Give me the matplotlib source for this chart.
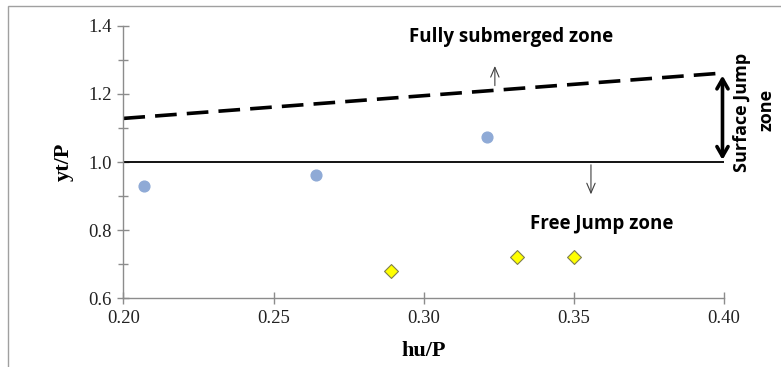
import matplotlib.pyplot as plt
from matplotlib.patches import Rectangle

# data
free_x = [0.207, 0.264, 0.321]
free_y = [0.931, 0.963, 1.074]
sub_x = [0.289, 0.331, 0.350]
sub_y = [0.681, 0.721, 0.722]

# boundary lines
dash_x = [0.200, 0.398]
dash_y = [1.128, 1.260]
solid_x = [0.200, 0.400]
solid_y = [1.0, 1.0]

xticks = [0.20, 0.25, 0.30, 0.35, 0.40]
yticks = [0.6, 0.8, 1.0, 1.2, 1.4]

fig = plt.figure(figsize=(7.81, 3.67), dpi=100)
ax = fig.add_axes([0.158, 0.187, 0.769, 0.743])

# chart area border (Excel-style, cropped at right/bottom)
fig.patches.append(Rectangle((8 / 781, -0.1), 1.2, 1 - 6 / 367 + 0.1,
                             transform=fig.transFigure, fill=False,
                             edgecolor='#a0a0a0', linewidth=1.0))

ax.plot(dash_x, dash_y, color='black', linestyle=(0, (6, 2.8)), linewidth=2.6)
ax.plot(solid_x, solid_y, color='black', linewidth=1.3)

ax.scatter(free_x, free_y, s=60, color='#8faad6', zorder=3)
ax.scatter(sub_x, sub_y, s=50, marker='D', color='#ffff00',
           edgecolors='#7f7f50', linewidths=0.8, zorder=3)

# arrows
ax.annotate('', xy=(0.3995, 1.262), xytext=(0.3995, 0.998),
            arrowprops=dict(arrowstyle='<->,head_length=0.7,head_width=0.4',
                            color='black', lw=2.6))
ax.annotate('', xy=(0.3237, 1.29), xytext=(0.3237, 1.216),
            arrowprops=dict(arrowstyle='->,head_length=0.7,head_width=0.3',
                            color='#404040', lw=0.8))
ax.annotate('', xy=(0.3557, 0.897), xytext=(0.3557, 1.0),
            arrowprops=dict(arrowstyle='->,head_length=0.7,head_width=0.3',
                            color='#404040', lw=0.8))

ax.text(0.3292, 1.366, 'Fully submerged zone', ha='center', va='center',
        fontsize=13.5, fontweight='bold', family='Open Sans')
ax.text(0.3592, 0.818, 'Free Jump zone', ha='center', va='center',
        fontsize=13.5, fontweight='bold', family='Open Sans')
fig.text(742 / 781, 1 - 112 / 367, 'Surface Jump', rotation=90, ha='center',
         va='center', fontsize=13, fontweight='bold', family='Open Sans')
fig.text(767 / 781, 1 - 110 / 367, 'zone', rotation=90, ha='center',
         va='center', fontsize=13, fontweight='bold', family='Open Sans')

ax.set_xlim(0.20, 0.40)
ax.set_ylim(0.6, 1.4)
ax.set_xticks(xticks)
ax.set_yticks(yticks)
ax.set_xticklabels(['%.2f' % t for t in xticks])
ax.set_yticklabels(['%.1f' % t for t in yticks])
ax.set_yticks([0.7, 0.9, 1.1, 1.3], minor=True)

for side in ['top', 'right']:
    ax.spines[side].set_visible(False)
for side in ['left', 'bottom']:
    ax.spines[side].set_color('#8c8c8c')
    ax.spines[side].set_linewidth(1.0)

ax.tick_params(which='major', direction='inout', length=9, width=1.0,
               color='#8c8c8c', pad=4, labelsize=13.5, labelcolor='#222222',
               labelfontfamily='Liberation Serif')
ax.tick_params(which='minor', direction='inout', length=7, width=1.0, color='#8c8c8c')

ax.set_xlabel('hu/P', fontsize=16, fontweight='bold', family='Liberation Serif', labelpad=10)
ax.set_ylabel('yt/P', fontsize=16, fontweight='bold', family='Liberation Serif', labelpad=10)

fig.savefig('out.png', dpi=100)
